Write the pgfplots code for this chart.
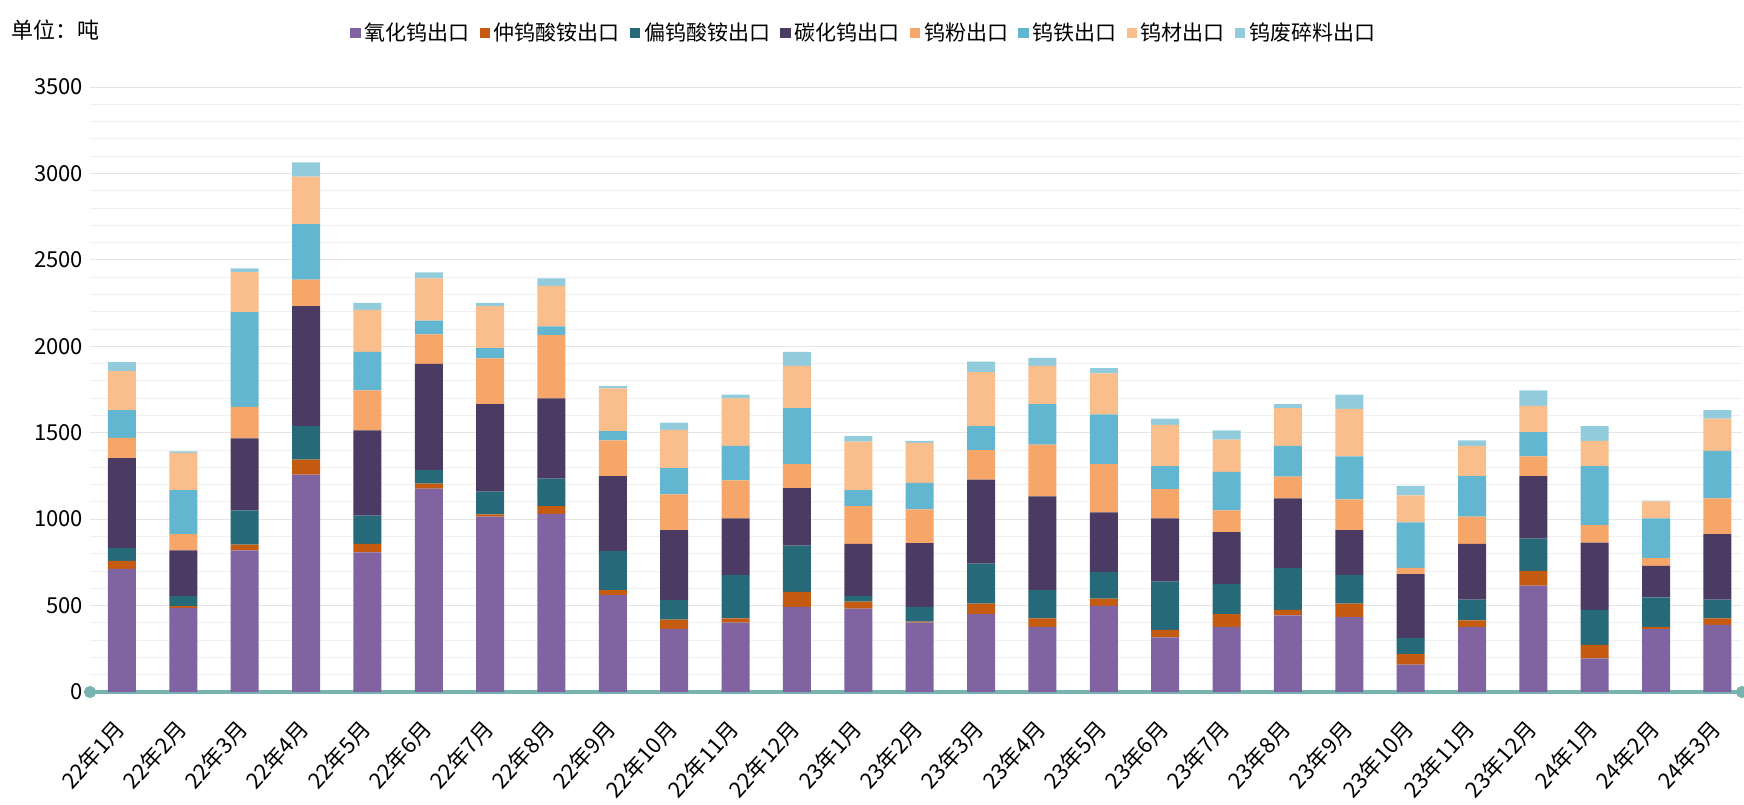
\documentclass[border=0pt]{standalone}
\usepackage{pgfplots}
\pgfplotsset{compat=1.18}
\usepackage{pgfplotstable}
\usepackage{fontspec}
\setmainfont{Noto Sans CJK SC}
\usetikzlibrary{arrows.meta}
\definecolor{c1}{HTML}{8064A2}
\definecolor{c2}{HTML}{C55A11}
\definecolor{c3}{HTML}{266978}
\definecolor{c4}{HTML}{4B3A62}
\definecolor{c5}{HTML}{F7A669}
\definecolor{c6}{HTML}{62B6CF}
\definecolor{c7}{HTML}{FABE8C}
\definecolor{c8}{HTML}{92CCDC}
\definecolor{axiscol}{HTML}{78B3AF}
\pgfplotstableread{
x a b c d e f g h
0 713 46 73 521 117 161 226 51
1 487 10 58 265 93 255 215 9
2 820 32 199 417 182 548 231 22
3 1258 86 194 694 153 322 275 82
4 808 49 163 494 231 222 243 41
5 1176 29 80 614 170 80 244 34
6 1015 12 132 506 265 59 243 19
7 1030 46 158 465 365 51 234 44
8 560 29 226 434 207 53 248 13
9 365 54 112 406 207 151 221 42
10 402 24 251 328 219 200 275 22
11 492 87 268 333 139 324 243 81
12 482 41 32 302 219 92 280 32
13 402 5 85 370 194 154 231 12
14 450 61 231 487 171 138 312 61
15 377 49 163 543 299 234 221 47
16 499 41 154 345 280 287 237 31
17 316 44 278 367 168 134 239 36
18 377 73 176 299 126 222 187 54
19 443 32 243 402 126 178 219 22
20 433 78 166 260 178 248 275 83
21 158 61 93 370 36 263 156 56
22 377 37 121 322 158 234 175 31
23 616 85 187 361 114 141 151 90
24 195 78 202 389 102 341 146 85
25 365 12 171 182 44 231 98 4
26 389 37 109 378 207 275 187 49
}\datatable
\begin{document}
\begin{tikzpicture}
\path[use as bounding box] (0,0) rectangle (872pt,402pt);
\node[anchor=west, font=\fontsize{11}{13}\selectfont, inner sep=0pt] at (5.5pt,387pt) {单位：吨};
\begin{axis}[
  at={(45pt,56pt)}, anchor=south west,
  scale only axis, width=826pt, height=302.5pt,
  xmin=-0.52, xmax=26.4, ymin=0, ymax=3500,
  enlargelimits=false,
  ybar stacked, bar width=14pt,
  axis x line*=bottom, axis y line*=left,
  y axis line style={draw=none},
  x axis line style={draw=axiscol, line width=1.7pt, shorten <=-3pt, shorten >=-3pt, {Circle[length=6pt]}-{Circle[length=6pt]}},
  major tick length=0pt, minor tick length=0pt,
  ytick distance=500, minor y tick num=4,
  ymajorgrids, yminorgrids,
  major grid style={draw=black!10, line width=0.5pt},
  minor grid style={draw=black!6, line width=0.5pt},
  xtick={0,...,26},
  xticklabels={22年1月,22年2月,22年3月,22年4月,22年5月,22年6月,22年7月,22年8月,22年9月,22年10月,22年11月,22年12月,23年1月,23年2月,23年3月,23年4月,23年5月,23年6月,23年7月,23年8月,23年9月,23年10月,23年11月,23年12月,24年1月,24年2月,24年3月},
  yticklabel style={font=\fontsize{11}{13}\selectfont},
  xticklabel style={font=\fontsize{11}{13}\selectfont, xshift=0pt, yshift=-15.5pt, rotate=48, anchor=east, inner sep=1pt},
  /pgf/number format/assume math mode=true,
  yticklabel style={/pgf/number format/1000 sep={}},
  legend style={at={(0.469,1.089)}, anchor=center, draw=none, fill=none,
    font=\fontsize{10.5}{12}\selectfont, legend columns=8,
    /tikz/every even column/.append style={column sep=3pt},
    inner sep=0pt},
  legend image code/.code={\fill[#1] (0pt,-2.6pt) rectangle (5.2pt,2.6pt);},
  every axis plot/.append style={draw=none},
]
\addplot[fill=c1] table[x=x,y=a]{\datatable};
\addplot[fill=c2] table[x=x,y=b]{\datatable};
\addplot[fill=c3] table[x=x,y=c]{\datatable};
\addplot[fill=c4] table[x=x,y=d]{\datatable};
\addplot[fill=c5] table[x=x,y=e]{\datatable};
\addplot[fill=c6] table[x=x,y=f]{\datatable};
\addplot[fill=c7] table[x=x,y=g]{\datatable};
\addplot[fill=c8] table[x=x,y=h]{\datatable};
\legend{氧化钨出口,仲钨酸铵出口,偏钨酸铵出口,碳化钨出口,钨粉出口,钨铁出口,钨材出口,钨废碎料出口}
\end{axis}
\end{tikzpicture}
\end{document}
